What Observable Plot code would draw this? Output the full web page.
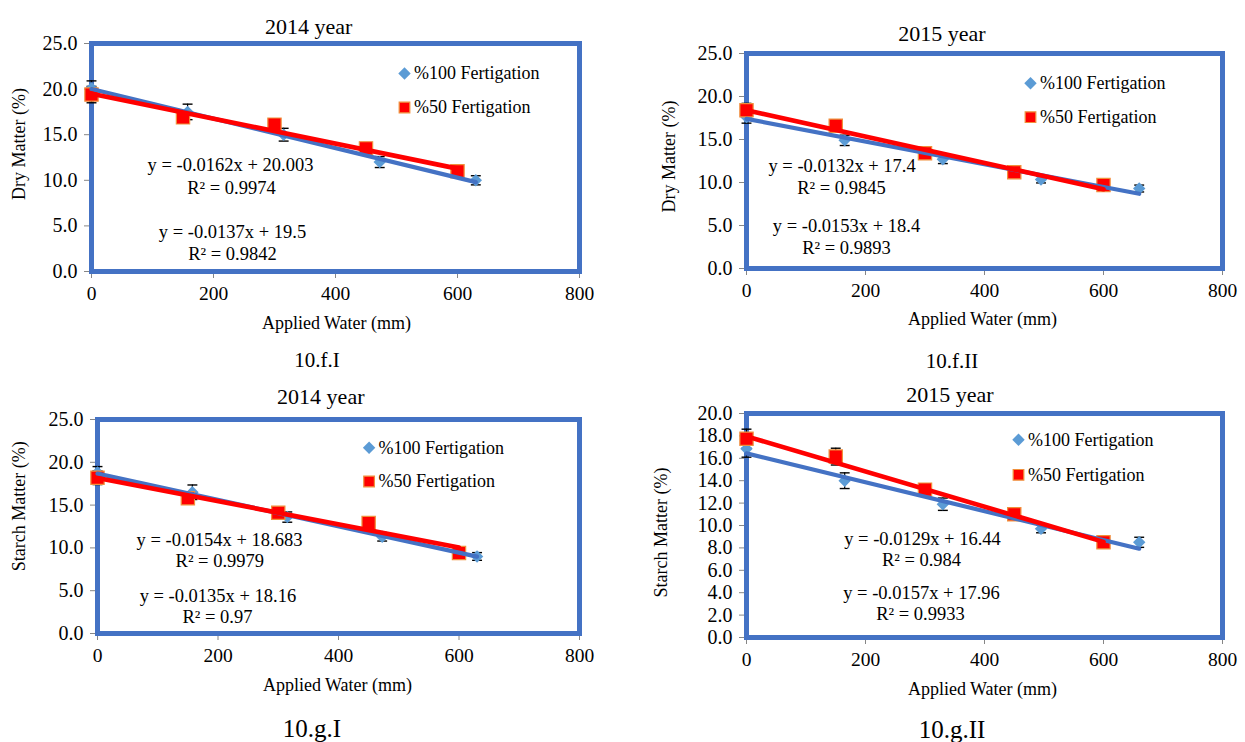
<!DOCTYPE html>
<html><head><meta charset="utf-8">
<script src="https://cdn.jsdelivr.net/npm/d3@7"></script>
<script src="https://cdn.jsdelivr.net/npm/@observablehq/plot@0.6"></script>
<style>
html,body{margin:0;padding:0;background:#fff;}
#root{position:relative;width:1245px;height:742px;overflow:hidden;font-family:"Liberation Serif",serif;color:#000;}
svg text, svg tspan{font-family:"Liberation Serif", serif !important;}
#root svg [aria-label^="y-axis"] text{font-size:20px;}
#root svg [aria-label^="x-axis"] text{font-size:19.5px;}
.lbl{position:absolute;white-space:nowrap;transform:translate(-50%,-50%);line-height:1;}
</style></head><body><div id="root"></div>
<script>
// ---------- data ----------
const seriesNames = ["%100 Fertigation", "%50 Fertigation"];
const xTicks = [0, 200, 400, 600, 800];
const yTicksDry = [0, 5, 10, 15, 20, 25];
const yTicksStarch2014 = [0, 5, 10, 15, 20, 25];
const yTicksStarch2015 = [0, 2, 4, 6, 8, 10, 12, 14, 16, 18, 20];

const water2014Full = [0, 157.5, 315, 472.5, 630];
const water2015Full = [0, 165, 330, 495, 660];
const waterHalf = [0, 150, 300, 450, 600];

// 10.f.I  Dry matter 2014
const dry2014Full = [20.1, 17.5, 15.0, 12.0, 10.0];
const dry2014FullErr = [0.8, 0.85, 0.7, 0.6, 0.5];
const dry2014Half = [19.4, 16.9, 16.1, 13.5, 11.0];
const dry2014HalfErr = [0.9, 0.5, 0.6, 0.3, 0.3];
// 10.f.II Dry matter 2015
const dry2015Full = [17.6, 14.9, 12.7, 10.35, 9.3];
const dry2015FullErr = [0.7, 0.6, 0.5, 0.4, 0.4];
const dry2015Half = [18.4, 16.6, 13.4, 11.2, 9.7];
const dry2015HalfErr = [0.8, 0.7, 0.4, 0.3, 0.3];
// 10.g.I  Starch 2014
const starch2014Full = [18.8, 16.5, 13.6, 11.3, 9.0];
const starch2014FullErr = [0.7, 0.85, 0.6, 0.5, 0.45];
const starch2014Half = [18.2, 15.8, 14.1, 12.9, 9.4];
const starch2014HalfErr = [0.8, 0.4, 0.4, 0.7, 0.4];
// 10.g.II Starch 2015
const starch2015Full = [16.85, 14.0, 11.9, 9.7, 8.5];
const starch2015FullErr = [0.75, 0.7, 0.55, 0.35, 0.45];
const starch2015Half = [17.75, 16.15, 13.2, 11.0, 8.5];
const starch2015HalfErr = [0.85, 0.75, 0.35, 0.3, 0.3];

// trendlines: [slope, intercept, R2] for %100 then %50
const trend2014Dry = [[-0.0162, 20.003, 0.9974], [-0.0137, 19.5, 0.9842]];
const trend2015Dry = [[-0.0132, 17.4, 0.9845], [-0.0153, 18.4, 0.9893]];
const trend2014Starch = [[-0.0154, 18.683, 0.9979], [-0.0135, 18.16, 0.97]];
const trend2015Starch = [[-0.0129, 16.44, 0.984], [-0.0157, 17.96, 0.9933]];

const titles = ["2014 year", "2015 year", "2014 year", "2015 year"];
const captions = ["10.f.I", "10.f.II", "10.g.I", "10.g.II"];
const yLabels = ["Dry Matter (%)", "Dry Matter (%)", "Starch Matter (%)", "Starch Matter (%)"];
const xLabel = "Applied Water (mm)";

// ---------- styles / layout ----------
const FONT = "Liberation Serif";
const FRAME_BLUE = "#4472C4";
const STY = [
  {symbol: d3.symbolDiamond2, r: 5.6, lr: 5.6, fill: "#5B9BD5", stroke: "none", sw: 0, line: "#4472C4", lw: 4.2},
  {symbol: d3.symbolSquare, r: 7.5, lr: 6.0, fill: "#FF0000", stroke: "#F0903C", sw: 1.2, line: "#FF0000", lw: 4.6}
];
const capSymbol = {draw(ctx, size) { const w = Math.sqrt(size) / 2; ctx.moveTo(-w, 0); ctx.lineTo(w, 0); }};

const panels = [
  {svg: {x: 0, y: 0, w: 620, h: 345}, frame: {l: 91, t: 43, r: 579, b: 271},
   yTicks: yTicksDry, data: [[water2014Full, dry2014Full, dry2014FullErr], [waterHalf, dry2014Half, dry2014HalfErr]], trend: trend2014Dry,
   title: [308.7, 26.5, 22], caption: [317, 360, 21], ylab: [18.5, 143.6], xlab: [336, 323],
   legend: [404, 73, 34], eq: [[230, 165], [231, 187.5], [232, 231.3], [232, 253.6]]},
  {svg: {x: 620, y: 0, w: 625, h: 345}, frame: {l: 746, t: 53, r: 1222, b: 268},
   yTicks: yTicksDry, data: [[water2015Full, dry2015Full, dry2015FullErr], [waterHalf, dry2015Half, dry2015HalfErr]], trend: trend2015Dry,
   title: [942, 34, 22], caption: [952, 360.7, 21], ylab: [669, 156], xlab: [982, 319],
   legend: [1030, 82.7, 34], eq: [[841.6, 166], [841, 187.5], [846, 225.8], [846, 247.5]]},
  {svg: {x: 0, y: 372, w: 620, h: 345}, frame: {l: 97, t: 419, r: 579, b: 633},
   yTicks: yTicksStarch2014, data: [[water2014Full, starch2014Full, starch2014FullErr], [waterHalf, starch2014Half, starch2014HalfErr]], trend: trend2014Starch,
   title: [320.8, 397.3, 22], caption: [312, 728, 25], ylab: [19, 505.7], xlab: [337, 685],
   legend: [368.6, 447.3, 33.7], eq: [[219, 539.7], [219.3, 561], [217.4, 595.7], [217, 616.7]]},
  {svg: {x: 620, y: 372, w: 625, h: 345}, frame: {l: 746, t: 413, r: 1222, b: 637},
   yTicks: yTicksStarch2015, data: [[water2015Full, starch2015Full, starch2015FullErr], [waterHalf, starch2015Half, starch2015HalfErr]], trend: trend2015Starch,
   title: [950, 395, 22], caption: [952, 729, 25], ylab: [661, 532], xlab: [982, 688.3],
   legend: [1018, 439.3, 35], eq: [[922, 539], [921, 560], [921, 592.7], [920, 613.3]]}
];

const root = document.getElementById("root");

function addLabel(text, x, y, size) {
  const d = document.createElement("div");
  d.className = "lbl";
  d.textContent = text;
  d.style.left = x + "px"; d.style.top = y + "px"; d.style.fontSize = size + "px";
  root.appendChild(d);
}

panels.forEach((p, pi) => {
  const F = p.frame, S = p.svg;
  const rel = (x, y) => ({dx: x - F.l, dy: y - F.t});
  const rows = [];
  p.data.forEach(([xs, ys, es], si) => xs.forEach((x, i) => rows.push({si, x, y: ys[i], lo: ys[i] - es[i], hi: ys[i] + es[i]})));
  const trendRows = p.data.map(([xs], si) => [0, d3.max(xs)].map(x => ({si, x, y: p.trend[si][0] * x + p.trend[si][1]})));
  const txt = {fontFamily: FONT, fontSize: 18.5, fill: "#000", lineAnchor: "middle", frameAnchor: "top-left"};

  const marks = [Plot.frame({stroke: FRAME_BLUE, strokeWidth: 5})];
  // error bars
  marks.push(Plot.ruleX(rows, {x: "x", y1: "lo", y2: "hi", stroke: "#000", strokeWidth: 1.2}));
  marks.push(Plot.dot(rows, {x: "x", y: "lo", symbol: capSymbol, r: 5.6, fill: "none", stroke: "#000", strokeWidth: 1.4}));
  marks.push(Plot.dot(rows, {x: "x", y: "hi", symbol: capSymbol, r: 5.6, fill: "none", stroke: "#000", strokeWidth: 1.4}));
  // markers
  STY.forEach((st, si) => marks.push(Plot.dot(rows.filter(d => d.si === si),
    {x: "x", y: "y", symbol: st.symbol, r: st.r, fill: st.fill, stroke: st.stroke, strokeWidth: st.sw})));
  // trendlines
  STY.forEach((st, si) => marks.push(Plot.line(trendRows[si], {x: "x", y: "y", stroke: st.line, strokeWidth: st.lw})));
  // legend
  STY.forEach((st, si) => {
    const o = rel(p.legend[0], p.legend[1] + si * p.legend[2]);
    marks.push(Plot.dot([seriesNames[si]], {frameAnchor: "top-left", dx: o.dx, dy: o.dy, symbol: st.symbol, r: st.lr, fill: st.fill, stroke: st.stroke, strokeWidth: st.sw}));
    marks.push(Plot.text([seriesNames[si]], {...txt, fontSize: 18, text: d => d, dx: o.dx + 9.5, dy: o.dy, textAnchor: "start"}));
  });
  // equations
  const eqTexts = [];
  p.trend.forEach(([m, b, r2]) => { eqTexts.push(`y = ${m}x + ${b}`); eqTexts.push(`R² = ${r2}`); });
  eqTexts.forEach((t, i) => {
    const o = rel(p.eq[i][0], p.eq[i][1]);
    marks.push(Plot.text([t], {...txt, text: d => d, dx: o.dx, dy: o.dy, textAnchor: "middle"}));
  });
  // axis labels
  const oy = rel(p.ylab[0], p.ylab[1]);
  marks.push(Plot.text([yLabels[pi]], {...txt, fontSize: 18, text: d => d, dx: oy.dx, dy: oy.dy, rotate: -90, textAnchor: "middle"}));
  const ox = rel(p.xlab[0], p.xlab[1]);
  marks.push(Plot.text([xLabel], {...txt, fontSize: 18, text: d => d, dx: ox.dx, dy: ox.dy, textAnchor: "middle"}));

  const svg = Plot.plot({
    width: S.w, height: S.h,
    marginLeft: F.l - S.x, marginTop: F.t - S.y, marginRight: S.x + S.w - F.r, marginBottom: S.y + S.h - F.b,
    x: {domain: d3.extent(xTicks), ticks: xTicks, tickSize: 7, tickPadding: 8, label: null, tickFormat: d => String(d)},
    y: {domain: d3.extent(p.yTicks), ticks: p.yTicks, tickSize: 7, tickPadding: 7, label: null, tickFormat: d => d.toFixed(1)},
    style: {background: "transparent", overflow: "visible"},
    marks
  });
  svg.setAttribute("font-family", FONT);
  svg.setAttribute("font-size", "19");
  svg.style.position = "absolute";
  svg.style.left = S.x + "px";
  svg.style.top = S.y + "px";
  svg.querySelectorAll('g[aria-label^="x-axis"] line, g[aria-label^="y-axis"] line, g[aria-label^="x-axis tick"] path, g[aria-label^="y-axis tick"] path')
    .forEach(el => el.setAttribute("stroke", "#868686"));
  root.appendChild(svg);

  addLabel(titles[pi], p.title[0], p.title[1], p.title[2]);
  addLabel(captions[pi], p.caption[0], p.caption[1], p.caption[2]);
});
</script></body></html>
